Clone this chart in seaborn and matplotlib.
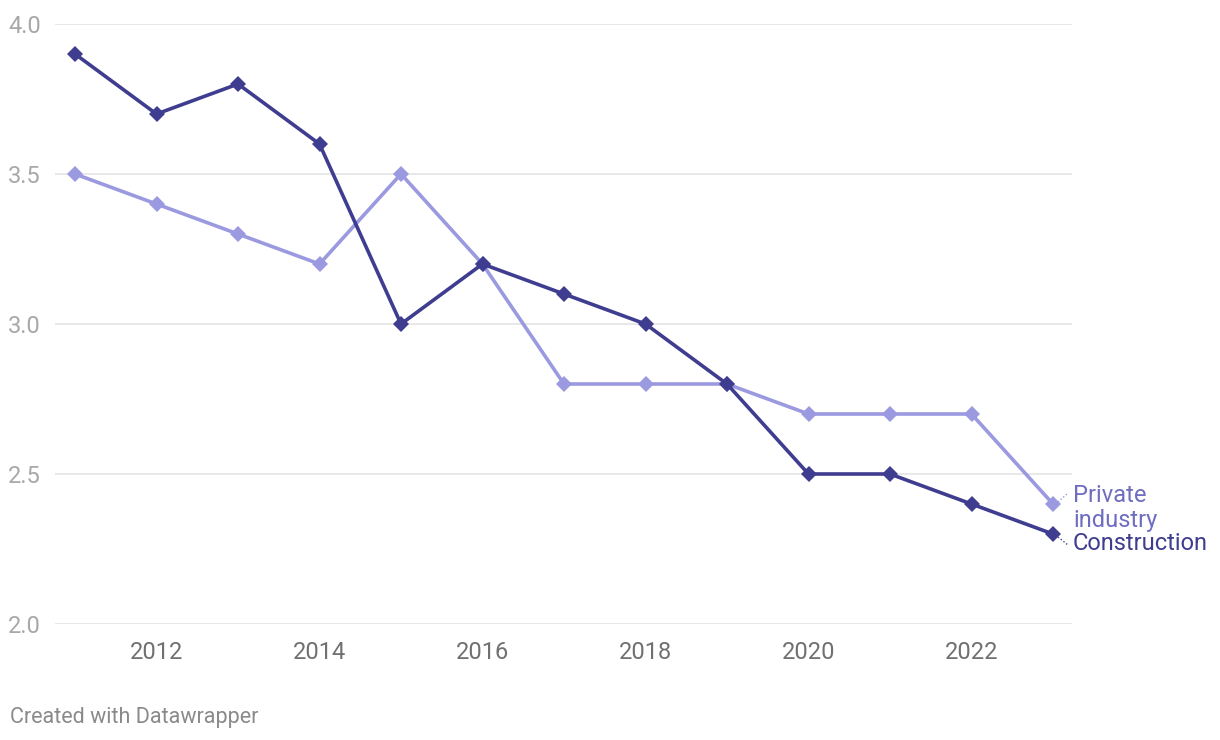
import matplotlib
matplotlib.use("Agg")
import matplotlib.pyplot as plt
import seaborn as sns
import pandas as pd

years = list(range(2011, 2024))
construction = [3.9, 3.7, 3.8, 3.6, 3.0, 3.2, 3.1, 3.0, 2.8, 2.5, 2.5, 2.4, 2.3]
private_industry = [3.5, 3.4, 3.3, 3.2, 3.5, 3.2, 2.8, 2.8, 2.8, 2.7, 2.7, 2.7, 2.4]
y_ticks = [2.0, 2.5, 3.0, 3.5, 4.0]
x_ticks = [2012, 2014, 2016, 2018, 2020, 2022]

sns.set_theme(style="white")
plt.rcParams['font.family'] = ['Roboto', 'DejaVu Sans']

df = pd.DataFrame({
    "year": years * 2,
    "value": private_industry + construction,
    "series": ["Private industry"] * len(years) + ["Construction"] * len(years),
})

c_dark = "#3f3d8f"
c_light = "#9b99e0"
palette = {"Private industry": c_light, "Construction": c_dark}

fig = plt.figure(figsize=(12.2, 7.4), dpi=100)
ax = fig.add_axes([55 / 1220, 1 - 624 / 740, (1072 - 55) / 1220, 600 / 740])

sns.lineplot(data=df, x="year", y="value", hue="series", palette=palette,
             hue_order=["Private industry", "Construction"],
             marker="D", markersize=8.5, markeredgewidth=0, linewidth=2.6,
             ax=ax, legend=False, clip_on=False, zorder=3)

ax.set_xlim(2011 - 20 / 81.5, 2023 + 19 / 81.5)
ax.set_ylim(2.0, 4.0)
ax.set_yticks(y_ticks)
ax.set_yticklabels([f"{v:.1f}" for v in y_ticks])
ax.set_xticks(x_ticks)
ax.set_xticklabels([str(v) for v in x_ticks])
ax.grid(axis="y", color="#e1e1e1", linewidth=1.1, zorder=0)
ax.grid(axis="x", visible=False)
for s in ax.spines.values():
    s.set_visible(False)
ax.set_xlabel("")
ax.set_ylabel("")
ax.tick_params(axis="y", length=0, pad=10, labelsize=17, labelcolor="#a8a8a8")
ax.tick_params(axis="x", length=0, pad=12, labelsize=17, labelcolor="#707070")


def fig_y(pix):
    return 1 - pix / 740


fig.text(1073 / 1220, fig_y(508), "Private\nindustry", color="#6f6dc0",
         fontsize=17, va="center", ha="left", linespacing=1.15)
fig.text(1073 / 1220, fig_y(544), "Construction", color=c_dark,
         fontsize=17, va="center", ha="left")

# dotted connectors
fig.add_artist(plt.Line2D([1058 / 1220, 1068 / 1220], [fig_y(502), fig_y(493)],
                          color=c_light, linestyle=(0, (1, 1.5)), linewidth=1))
fig.add_artist(plt.Line2D([1058 / 1220, 1068 / 1220], [fig_y(537), fig_y(545)],
                          color=c_dark, linestyle=(0, (1, 1.5)), linewidth=1))

fig.text(10 / 1220, fig_y(717), "Created with Datawrapper", color="#8a8a8a",
         fontsize=15.5, va="center", ha="left")

fig.savefig("out.png", dpi=100, facecolor="white")
